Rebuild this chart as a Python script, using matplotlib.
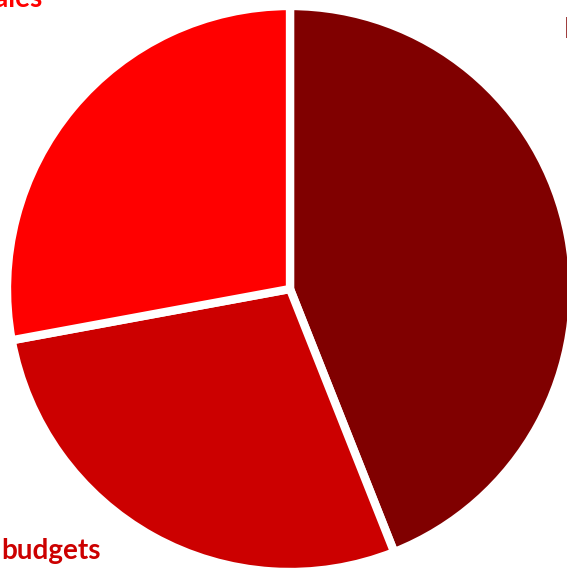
import matplotlib
matplotlib.use('Agg')
import matplotlib.pyplot as plt

labels = ['Expenses', 'budgets', 'Sales']
shares = [44.0, 28.1, 27.9]
colors = ['#800000', '#cc0000', '#ff0000']

W, H = 567, 569
fig = plt.figure(figsize=(W / 100, H / 100), dpi=100)
ax = fig.add_axes([0, 0, 1, 1])
ax.axis('off')

ax.pie(shares, colors=colors, startangle=90, counterclock=False,
       center=(290, H - 289), radius=283,
       wedgeprops=dict(edgecolor='white', linewidth=6))
ax.set_xlim(0, W)
ax.set_ylim(0, H)
ax.set_aspect('equal')

font = dict(family=['Lato', 'DejaVu Sans'], weight='bold', fontsize=20)
ax.text(564, H - 38, labels[0], color=colors[0], ha='left', va='baseline', **font)
ax.text(1, H - 559, labels[1], color=colors[1], ha='left', va='baseline', **font)
ax.text(43, H - 7, labels[2], color=colors[2], ha='right', va='baseline', **font)

fig.savefig('out.png', dpi=100)
